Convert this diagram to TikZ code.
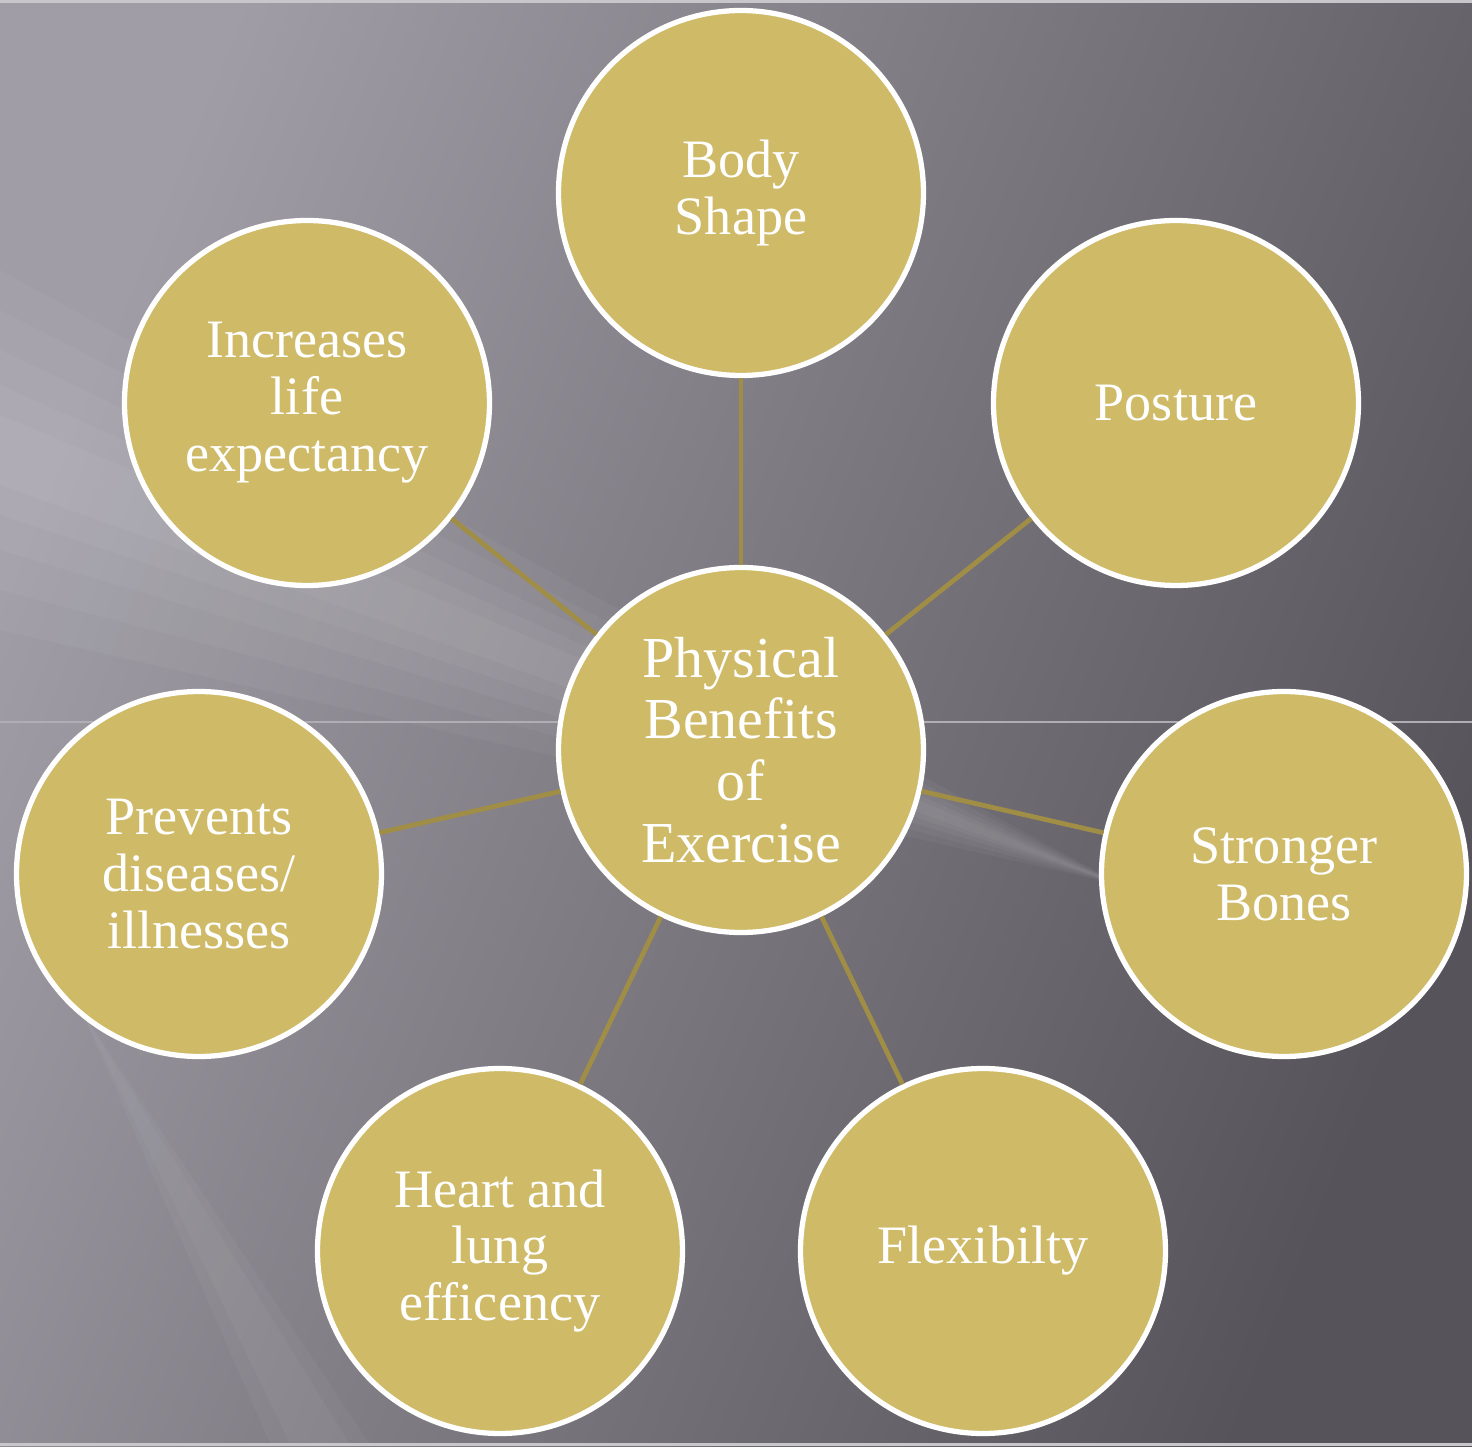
\documentclass[tikz,border=0pt]{standalone}
\usepackage{fontspec}
\setmainfont{Liberation Serif}
\usepackage{tikz}
\usepackage{xcolor}
\usetikzlibrary{shapes, calc, positioning, backgrounds}
\definecolor{benefitgold}{RGB}{207, 186, 104}
\definecolor{linkgold}{RGB}{160, 142, 70}
\definecolor{slatelight}{RGB}{160, 157, 166}
\definecolor{slatedark}{RGB}{86, 83, 90}
\definecolor{slateline}{RGB}{176, 173, 180}

\tikzset{
    benefit/.style={circle, draw=white, line width=1.5pt, fill=benefitgold,
        minimum size=3.65cm, inner sep=0pt, align=center, text=white,
        font=\fontsize{15.4}{16.2}\selectfont},
    hub/.style={benefit, font=\fontsize{16.5}{17.6}\selectfont},
    link/.style={draw=linkgold, line width=1.35pt}
}

\begin{document}
\begin{tikzpicture}
            % slide background
            \useasboundingbox (-7.41, -6.96) rectangle (7.31, 7.50);
            \shade[shading=axis, top color=slatelight, bottom color=slatedark, shading angle=68]
                (-7.41, -6.96) rectangle (7.31, 7.50);
            \foreach \w in {1.8, 1.4, 1.0, 0.65, 0.35} {
                \fill[white, fill opacity=0.04]
                    ($(-7.41, 3.0)+(0, \w)$) -- (3.8, -1.35)
                    -- ($(-7.41, 3.0)-(0, \w)$) -- cycle;
            }
            \foreach \w in {0.5, 0.3} {
                \fill[white, fill opacity=0.035]
                    (-6.6, -2.6) -- ($(-4.2, -6.96)+(\w, 0)$)
                    -- ($(-4.2, -6.96)-(\w, 0)$) -- cycle;
            }
            \draw[slateline, line width=0.3pt] (-7.41, 0.28) -- (7.31, 0.28);
            \fill[slateline!70!white] (-7.41, 7.47) rectangle (7.31, 7.50);
            \fill[slateline!70!white] (-7.41, -6.96) rectangle (7.31, -6.93);

            % centre and the seven benefits
            \node [hub] (exercise) at (0, 0) {Physical\\Benefits\\of\\Exercise};

            \node [benefit] (shape)    at (0, 5.57)      {Body\\Shape};
            \node [benefit] (posture)  at (4.35, 3.47)   {Posture};
            \node [benefit] (bones)    at (5.43, -1.24)  {Stronger\\Bones};
            \node [benefit] (flex)     at (2.42, -5.01)  {Flexibilty};
            \node [benefit] (heart)    at (-2.41, -5.01) {Heart and\\lung\\efficency};
            \node [benefit] (diseases) at (-5.42, -1.24) {Prevents\\diseases/\\illnesses};
            \node [benefit] (life)     at (-4.34, 3.47)  {Increases\\life\\expectancy};

            \draw [link] (exercise) -- (shape);
            \draw [link] (exercise) -- (posture);
            \draw [link] (exercise) -- (bones);
            \draw [link] (exercise) -- (flex);
            \draw [link] (exercise) -- (heart);
            \draw [link] (exercise) -- (diseases);
            \draw [link] (exercise) -- (life);

        \end{tikzpicture}
\end{document}
